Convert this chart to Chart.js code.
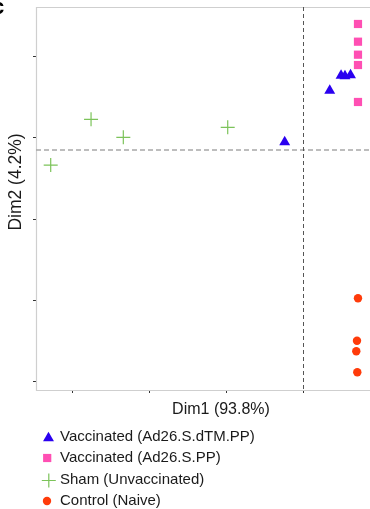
<!DOCTYPE html>
<html><head><meta charset="utf-8">
<script src="https://cdn.jsdelivr.net/npm/chart.js@4/dist/chart.umd.min.js"></script>
<style>html,body{margin:0;padding:0;background:#fff;overflow:hidden}#wrap{position:relative;width:370px;height:509px}</style>
</head><body><div id="wrap"><canvas id="c" width="370" height="509"></canvas></div>
<script>
// ---- data ----
const groupLabels = ['Vaccinated (Ad26.S.dTM.PP)', 'Vaccinated (Ad26.S.PP)', 'Sham (Unvaccinated)', 'Control (Naive)'];
const dtmDim1 = [-0.238, 0.347, 0.494, 0.545, 0.617];
const dtmDim2 = [0.098, 0.732, 0.917, 0.911, 0.923];
const ppDim1 = [0.714, 0.714, 0.714, 0.714, 0.714];
const ppDim2 = [1.551, 1.333, 1.173, 1.046, 0.591];
const shamDim1 = [-3.277, -2.753, -2.334, -0.978];
const shamDim2 = [-0.185, 0.378, 0.156, 0.279];
const naiveDim1 = [0.714, 0.701, 0.692, 0.705];
const naiveDim2 = [-1.825, -2.347, -2.477, -2.736];
const xTicks = [-3, -2, -1, 0];
const yTicks = [1.15, 0.15, -0.85, -1.85, -2.85];
const xTitle = 'Dim1 (93.8%)';
const yTitle = 'Dim2 (4.2%)';
const panelLetter = 'c';

const FONT = '"Liberation Sans", Arial, Helvetica, sans-serif';
const pts = (xs, ys) => xs.map((x, i) => ({x: x, y: ys[i]}));

const styles = [
  {pointStyle: 'triangle', radius: 6.3, bg: '#2a00f0', border: '#2a00f0', bw: 0},
  {pointStyle: 'rect', radius: 5.8, bg: '#ff4fb3', border: '#ff4fb3', bw: 0},
  {pointStyle: 'cross', radius: 7, bg: '#7cc35a', border: '#7cc35a', bw: 1.2},
  {pointStyle: 'circle', radius: 4.2, bg: '#ff3b0a', border: '#ff3b0a', bw: 0}
];
const series = [pts(dtmDim1, dtmDim2), pts(ppDim1, ppDim2), pts(shamDim1, shamDim2), pts(naiveDim1, naiveDim2)];

const datasets = series.map((d, i) => ({
  label: groupLabels[i],
  data: d,
  pointStyle: styles[i].pointStyle,
  pointRadius: styles[i].radius,
  pointHoverRadius: styles[i].radius,
  backgroundColor: styles[i].bg,
  borderColor: styles[i].border,
  pointBorderWidth: styles[i].bw,
  borderWidth: styles[i].bw,
  showLine: false,
  clip: false
}));

function drawMarker(ctx, st, x, y) {
  ctx.save();
  ctx.fillStyle = st.bg; ctx.strokeStyle = st.border; ctx.lineWidth = st.bw;
  if (Chart.helpers && Chart.helpers.drawPoint) {
    Chart.helpers.drawPoint(ctx, {pointStyle: st.pointStyle, radius: st.radius, rotation: 0, borderWidth: st.bw}, x, y);
  } else {
    ctx.beginPath();
    const r = st.radius;
    if (st.pointStyle === 'circle') { ctx.arc(x, y, r, 0, Math.PI * 2); ctx.fill(); }
    else if (st.pointStyle === 'rect') { const s = r * Math.SQRT1_2; ctx.fillRect(x - s, y - s, 2 * s, 2 * s); }
    else if (st.pointStyle === 'triangle') { ctx.moveTo(x, y - r); ctx.lineTo(x + r * 0.866, y + r / 2); ctx.lineTo(x - r * 0.866, y + r / 2); ctx.closePath(); ctx.fill(); }
    else { ctx.moveTo(x - r, y); ctx.lineTo(x + r, y); ctx.moveTo(x, y - r); ctx.lineTo(x, y + r); ctx.stroke(); }
  }
  ctx.restore();
}

const framePlugin = {
  id: 'frame',
  beforeDatasetsDraw(chart) {
    const {ctx, chartArea: a, scales} = chart;
    ctx.save();
    // frame (left, top, bottom)
    ctx.strokeStyle = '#cfcfcf'; ctx.lineWidth = 1.2;
    ctx.beginPath();
    ctx.moveTo(a.right + 1, a.top + 0.5); ctx.lineTo(a.left + 0.5, a.top + 0.5);
    ctx.lineTo(a.left + 0.5, a.bottom + 0.5); ctx.lineTo(a.right + 1, a.bottom + 0.5);
    ctx.stroke();
    // origin lines
    const y0 = scales.y.getPixelForValue(0);
    const x0 = scales.x.getPixelForValue(0);
    ctx.strokeStyle = '#a8a8a8'; ctx.lineWidth = 1.6; ctx.setLineDash([5, 3]);
    ctx.beginPath(); ctx.moveTo(a.left, y0); ctx.lineTo(a.right, y0); ctx.stroke();
    ctx.strokeStyle = '#555'; ctx.lineWidth = 1; ctx.setLineDash([4, 3]);
    ctx.beginPath(); ctx.moveTo(Math.round(x0) + 0.5, a.top); ctx.lineTo(Math.round(x0) + 0.5, a.bottom); ctx.stroke();
    ctx.restore();
  },
  afterDraw(chart) {
    const {ctx} = chart;
    ctx.save();
    ctx.fillStyle = '#1a1a1a';
    ctx.textBaseline = 'middle';
    // axis titles
    ctx.font = '16px ' + FONT; ctx.textAlign = 'center';
    ctx.fillText(xTitle, 221, 410);
    ctx.save();
    ctx.translate(16.5, 182); ctx.rotate(-Math.PI / 2);
    ctx.font = '17.5px ' + FONT;
    ctx.fillText(yTitle, 0, 0);
    ctx.restore();
    // legend
    const rows = [438, 458, 480.5, 501];
    const mx = [48.5, 47.2, 48.8, 47];
    ctx.font = '15px ' + FONT; ctx.textAlign = 'left';
    groupLabels.forEach((lab, i) => {
      drawMarker(ctx, styles[i], mx[i], rows[i]);
      ctx.fillStyle = '#1a1a1a';
      ctx.fillText(lab, 60, [436.5, 458, 480, 500.5][i]);
    });
    // cut-off panel letter
    ctx.font = 'bold 22px ' + FONT; ctx.fillStyle = '#000';
    ctx.fillText(panelLetter, -8, 8);
    ctx.restore();
  }
};

new Chart(document.getElementById('c'), {
  type: 'scatter',
  data: {datasets: datasets},
  options: {
    responsive: false,
    animation: false,
    devicePixelRatio: 1,
    layout: {autoPadding: false, padding: {left: 33, top: 7, right: 0, bottom: 116}},
    plugins: {legend: {display: false}, tooltip: {enabled: false}},
    scales: {
      x: {
        type: 'linear', position: 'bottom', min: -3.468, max: 0.870,
        grid: {display: true, drawOnChartArea: false, drawTicks: true, tickLength: 3, tickColor: '#333', color: '#333'},
        border: {display: false},
        ticks: {display: false},
        title: {display: false},
        afterBuildTicks: s => { s.ticks = xTicks.map(v => ({value: v})); }
      },
      y: {
        type: 'linear', position: 'left', min: -2.954, max: 1.760,
        grid: {display: true, drawOnChartArea: false, drawTicks: true, tickLength: 3, tickColor: '#333', color: '#333'},
        border: {display: false},
        ticks: {display: false},
        title: {display: false},
        afterBuildTicks: s => { s.ticks = yTicks.map(v => ({value: v})); }
      }
    }
  },
  plugins: [framePlugin]
});
</script>
</body></html>
